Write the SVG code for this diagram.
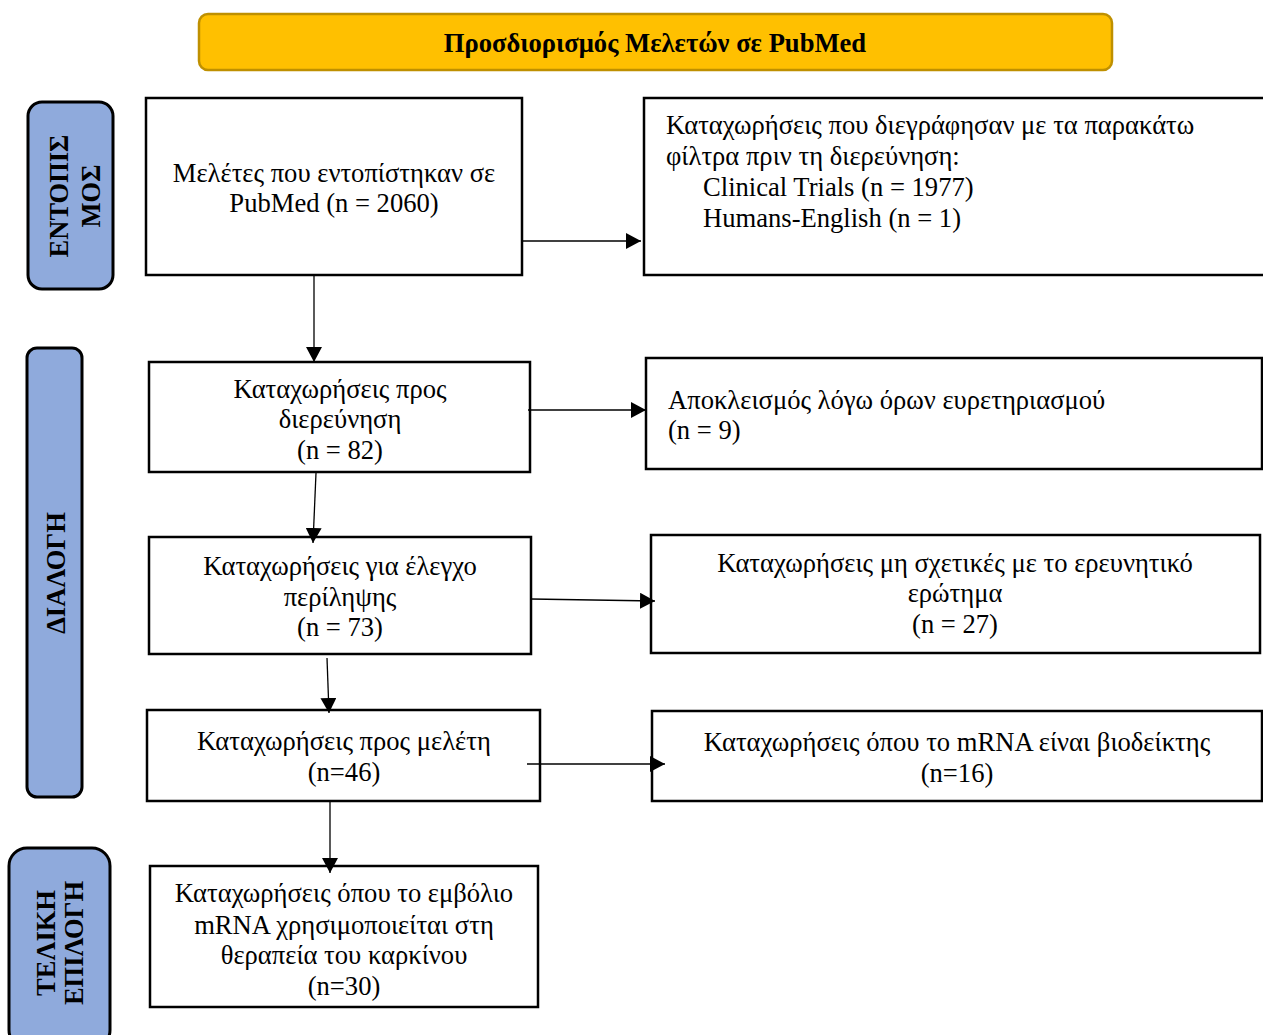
<svg xmlns="http://www.w3.org/2000/svg" width="1263" height="1035" viewBox="0 0 1263 1035">
<style>
.box{fill:#fff;stroke:#000;stroke-width:2.5}
.side{fill:#8FAADC;stroke:#000;stroke-width:3}
.t{font-family:"Liberation Serif","Times New Roman",serif;font-size:26.6px;fill:#000}
.c{text-anchor:middle}
.sl{font-family:"Liberation Serif","Times New Roman",serif;font-size:26.5px;font-weight:bold;fill:#000;text-anchor:middle}
.conn line{stroke:#000;stroke-width:1.3;fill:none}
</style>
<defs>
<marker id="ah" markerUnits="userSpaceOnUse" markerWidth="16" markerHeight="16" viewBox="0 0 16 16" refX="15" refY="8" orient="auto">
<path d="M0,0 L15,8 L0,16 Z" fill="#000"/>
</marker>
</defs>
<rect width="1263" height="1035" fill="#fff"/>

<g id="title">
<rect x="199" y="14" width="913" height="56" rx="9" fill="#FFC000" stroke="#BF9000" stroke-width="2.5"/>
<text x="655" y="52" class="t c" style="font-weight:bold">Προσδιορισμός Μελετών σε PubMed</text>
</g>

<g id="side-entopismos">
<rect x="28" y="102" width="85" height="187" rx="14" class="side"/>
<g transform="translate(0,196) rotate(-90)">
<text x="0" y="68" class="sl">ΕΝΤΟΠΙΣ</text>
<text x="0" y="100" class="sl">ΜΟΣ</text>
</g>
</g>

<g id="side-dialogi">
<rect x="27" y="348" width="55" height="449" rx="10" class="side"/>
<g transform="translate(0,573) rotate(-90)">
<text x="0" y="65" class="sl">ΔΙΑΛΟΓΗ</text>
</g>
</g>

<g id="side-teliki">
<rect x="9" y="848" width="101" height="200" rx="18" class="side"/>
<g transform="translate(0,943) rotate(-90)">
<text x="0" y="55" class="sl">ΤΕΛΙΚΗ</text>
<text x="0" y="83" class="sl">ΕΠΙΛΟΓΗ</text>
</g>
</g>

<g id="n1">
<rect x="146" y="98" width="376" height="177" class="box"/>
<text x="334" y="182" class="t c">Μελέτες που εντοπίστηκαν σε</text>
<text x="334" y="212" class="t c">PubMed (n = 2060)</text>
</g>

<g id="n2">
<rect x="644" y="98" width="630" height="177" class="box"/>
<text x="666" y="134" class="t">Καταχωρήσεις που διεγράφησαν με τα παρακάτω</text>
<text x="666" y="165" class="t">φίλτρα πριν τη διερεύνηση:</text>
<text x="703" y="196" class="t">Clinical Trials (n = 1977)</text>
<text x="703" y="227" class="t">Humans-English (n = 1)</text>
</g>

<g id="n3">
<rect x="149" y="362" width="381" height="110" class="box"/>
<text x="340" y="398" class="t c">Καταχωρήσεις προς</text>
<text x="340" y="428" class="t c">διερεύνηση</text>
<text x="340" y="459" class="t c">(n = 82)</text>
</g>

<g id="n4">
<rect x="646" y="358" width="616" height="111" class="box"/>
<text x="668" y="409" class="t">Αποκλεισμός λόγω όρων ευρετηριασμού</text>
<text x="668" y="439" class="t">(n = 9)</text>
</g>

<g id="n5">
<rect x="149" y="537" width="382" height="117" class="box"/>
<text x="340" y="575" class="t c">Καταχωρήσεις για έλεγχο</text>
<text x="340" y="606" class="t c">περίληψης</text>
<text x="340" y="636" class="t c">(n = 73)</text>
</g>

<g id="n6">
<rect x="651" y="535" width="609" height="118" class="box"/>
<text x="955" y="572" class="t c">Καταχωρήσεις μη σχετικές με το ερευνητικό</text>
<text x="955" y="602" class="t c">ερώτημα</text>
<text x="955" y="633" class="t c">(n = 27)</text>
</g>

<g id="n7">
<rect x="147" y="710" width="393" height="91" class="box"/>
<text x="344" y="750" class="t c">Καταχωρήσεις προς μελέτη</text>
<text x="344" y="781" class="t c">(n=46)</text>
</g>

<g id="n8">
<rect x="652" y="711" width="610" height="90" class="box"/>
<text x="957" y="751" class="t c">Καταχωρήσεις όπου το mRNA είναι βιοδείκτης</text>
<text x="957" y="782" class="t c">(n=16)</text>
</g>

<g id="n9">
<rect x="150" y="866" width="388" height="141" class="box"/>
<text x="344" y="902" class="t c">Καταχωρήσεις όπου το εμβόλιο</text>
<text x="344" y="934" class="t c">mRNA χρησιμοποιείται στη</text>
<text x="344" y="964" class="t c">θεραπεία του καρκίνου</text>
<text x="344" y="995" class="t c">(n=30)</text>
</g>

<g id="connectors" class="conn">
<line x1="523" y1="241" x2="641" y2="241" marker-end="url(#ah)"/>
<line x1="314" y1="276" x2="314" y2="362" marker-end="url(#ah)"/>
<line x1="528" y1="410" x2="646" y2="410" marker-end="url(#ah)"/>
<line x1="316" y1="473" x2="313" y2="543" marker-end="url(#ah)"/>
<line x1="531" y1="599" x2="655" y2="601" marker-end="url(#ah)"/>
<line x1="327" y1="658" x2="329" y2="713" marker-end="url(#ah)"/>
<line x1="527" y1="764" x2="665" y2="764" marker-end="url(#ah)"/>
<line x1="330" y1="802" x2="330" y2="873" marker-end="url(#ah)"/>
</g>
</svg>
